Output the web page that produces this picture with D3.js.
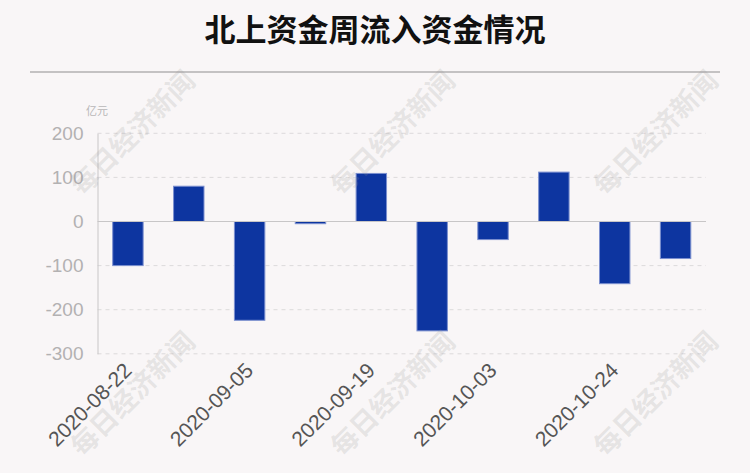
<!DOCTYPE html>
<html><head><meta charset="utf-8">
<script src="https://cdn.jsdelivr.net/npm/d3@7"></script>
<style>
html,body{margin:0;padding:0;background:#f9f6f7;}
svg{display:block;font-family:"Liberation Sans",Arial,sans-serif;}
</style></head>
<body><svg id="c" width="750" height="473"></svg>
<script>
const title = "北上资金周流入资金情况";
const unit = "亿元";
const categories = ["2020-08-22","2020-08-29","2020-09-05","2020-09-12","2020-09-19","2020-09-26","2020-10-03","2020-10-17","2020-10-24","2020-10-31"];
const values = [-100, 80, -224, -5, 109, -248, -41, 112, -141, -84];
const tickValues = [200, 100, 0, -100, -200, -300];
const shownLabels = ["2020-08-22","2020-09-05","2020-09-19","2020-10-03","2020-10-24"];
const watermark = "每日经济新闻";

const svg = d3.select("#c");
const W = 750, H = 473;
svg.append("rect").attr("width", W).attr("height", H).attr("fill", "#f9f6f7");

svg.append("text").attr("x", 375).attr("y", 41).attr("text-anchor", "middle")
  .attr("font-size", 31).attr("font-weight", "bold").attr("fill", "#111")
  .attr("font-family", "'Noto Sans CJK SC',sans-serif").text(title);
svg.append("line").attr("x1", 30).attr("x2", 720).attr("y1", 72).attr("y2", 72)
  .attr("stroke", "#c4c2c3").attr("stroke-width", 2);

const x = d3.scaleBand().domain(categories).range([97.5, 706]).paddingInner(0.5).paddingOuter(0.25);
const y = d3.scaleLinear().domain([-300, 200]).range([353.8, 133.3]);

// grid
svg.append("g").selectAll("line").data(tickValues.filter(d => d !== 0)).join("line")
  .attr("x1", 97.5).attr("x2", 706).attr("y1", d => y(d)).attr("y2", d => y(d))
  .attr("stroke", "#dcdadb").attr("stroke-dasharray", "4,4").attr("stroke-width", 1);

// y axis labels
const yAxis = d3.axisLeft(y).tickValues(tickValues).tickSize(0).tickPadding(14).tickFormat(d => String(d));
const gy = svg.append("g").attr("transform", "translate(97.5,0)").call(yAxis);
gy.select(".domain").attr("stroke", "#c8c6c7");
gy.selectAll("text").attr("font-size", 19).attr("fill", "#b3b1b2")
  .attr("font-family", "'Liberation Sans',Arial,sans-serif");

svg.append("text").attr("x", 97).attr("y", 115).attr("text-anchor", "middle")
  .attr("font-size", 11).attr("fill", "#b8b6b7")
  .attr("font-family", "'Noto Sans CJK SC',sans-serif").text(unit);

// bars
svg.append("g").selectAll("rect").data(values).join("rect")
  .attr("x", (d, i) => x(categories[i]))
  .attr("width", x.bandwidth())
  .attr("y", d => y(Math.max(0, d)))
  .attr("height", d => Math.abs(y(d) - y(0)))
  .attr("fill", "#0d35a0").attr("stroke", "#7b8fcf").attr("stroke-width", 1);

// zero line
svg.append("line").attr("x1", 97.5).attr("x2", 706).attr("y1", y(0)).attr("y2", y(0))
  .attr("stroke", "#c8c6c7").attr("stroke-width", 1);

// x labels
const xAxis = d3.axisBottom(x).tickValues(shownLabels).tickSize(0).tickPadding(0);
const gx = svg.append("g").attr("transform", "translate(0,353.8)").call(xAxis);
gx.select(".domain").remove();
gx.selectAll("text")
  .attr("font-size", 21).attr("fill", "#555").attr("text-anchor", "end")
  .attr("font-family", "'Liberation Sans',Arial,sans-serif")
  .attr("dy", null).attr("y", null)
  .attr("transform", "translate(5,18) rotate(-45)");

// watermarks
const wmx = [133, 393, 656], wmy = [133, 394];
const wm = svg.append("g");
wmy.forEach(cy => wmx.forEach(cx => {
  wm.append("text").attr("transform", `translate(${cx},${cy}) rotate(-45)`)
    .attr("text-anchor", "middle").attr("dy", "0.35em")
    .attr("font-size", 27).attr("font-weight", "bold")
    .attr("font-family", "'Noto Sans CJK SC',sans-serif")
    .attr("fill", "rgba(150,150,150,0.2)").text(watermark);
}));
</script></body></html>
